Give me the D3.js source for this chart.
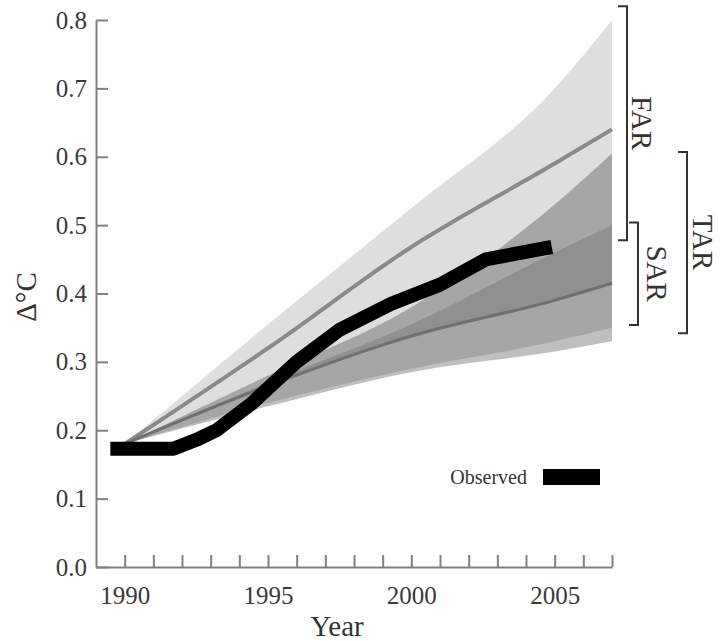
<!DOCTYPE html>
<html lang="en">
<head>
    <meta charset="UTF-8">
    <title>Projected vs observed warming</title>
    <script src="https://d3js.org/d3.v7.min.js"></script>
    <style>
        body {
            margin: 0;
            background-color: #fff;
        }
        svg text {
            font-family: "Liberation Serif", "Times New Roman", serif;
            fill: #333;
        }
        .axis path, .axis line {
            stroke: #808080;
            stroke-width: 2;
        }
        .axis text {
            font-size: 25px;
            fill: #3a3a3a;
        }
    </style>
</head>
<body>
    <div id="chart"></div>

    <script>
        // projection envelopes, read at these years
        const bandYears = [1990, 1995, 2000, 2005, 2007];
        const farUpper = [0.18, 0.355, 0.525, 0.70, 0.80];
        const farMean  = [0.18, 0.32, 0.468, 0.59, 0.64];
        const farLower = [0.18, 0.265, 0.335, 0.39, 0.415];
        const tarUpper = [0.18, 0.28, 0.38, 0.53, 0.605];
        const tarLower = [0.18, 0.235, 0.285, 0.315, 0.33];
        const sarUpper = [0.18, 0.27, 0.355, 0.46, 0.50];
        const sarMean  = [0.18, 0.265, 0.338, 0.39, 0.415];
        const sarLower = [0.18, 0.24, 0.29, 0.33, 0.35];

        // observed (smoothed) temperature
        const obsYears  = [1989.5, 1991.7, 1992.5, 1993.2, 1994.4, 1995.3, 1996.0, 1997.5, 1999.3, 2001.0, 2002.6, 2004.9];
        const obsValues = [0.173, 0.173, 0.186, 0.20, 0.238, 0.273, 0.30, 0.347, 0.385, 0.413, 0.45, 0.468];

        // bracket ranges on the right
        const bracketNames = ['FAR', 'SAR', 'TAR'];
        const bracketLow   = [0.478, 0.354, 0.342];
        const bracketHigh  = [0.82, 0.504, 0.607];

        const yTicks = [0, 0.1, 0.2, 0.3, 0.4, 0.5, 0.6, 0.7, 0.8];
        const xLabelYears = [1990, 1995, 2000, 2005];

        const width = 720, height = 641;
        const svg = d3.select('#chart').append('svg')
            .attr('width', width)
            .attr('height', height);

        const x = d3.scaleLinear().domain([1989, 2007]).range([96, 612]);
        const y = d3.scaleLinear().domain([0, 0.8]).range([567, 20]);

        const area = (lo, hi) => d3.area()
            .curve(d3.curveMonotoneX)
            .x((d, i) => x(bandYears[i]))
            .y0((d, i) => y(lo[i]))
            .y1((d, i) => y(hi[i]))(bandYears);

        const line = vals => d3.line()
            .curve(d3.curveMonotoneX)
            .x((d, i) => x(bandYears[i]))
            .y((d, i) => y(vals[i]))(bandYears);

        // bands, translucent so the overlaps darken
        svg.append('path').attr('d', area(farLower, farUpper))
            .attr('fill', '#000').attr('fill-opacity', 0.13);
        svg.append('path').attr('d', area(tarLower, tarUpper))
            .attr('fill', '#000').attr('fill-opacity', 0.25);
        svg.append('path').attr('d', area(sarLower, sarUpper))
            .attr('fill', '#000').attr('fill-opacity', 0.13);

        svg.append('path').attr('d', line(farMean))
            .attr('fill', 'none').attr('stroke', '#8a8a8a').attr('stroke-width', 4);
        svg.append('path').attr('d', line(sarMean))
            .attr('fill', 'none').attr('stroke', '#707070').attr('stroke-width', 3);

        // axes
        const xAxis = d3.axisBottom(x)
            .tickValues(d3.range(1990, 2008))
            .tickSizeInner(-12).tickSizeOuter(0).tickPadding(19)
            .tickFormat(d => xLabelYears.includes(d) ? d : '');
        svg.append('g').attr('class', 'axis')
            .attr('transform', 'translate(0,567)')
            .call(xAxis);

        const yAxis = d3.axisLeft(y)
            .tickValues(yTicks)
            .tickSizeInner(-12).tickSizeOuter(0).tickPadding(9)
            .tickFormat(d3.format('.1f'));
        svg.append('g').attr('class', 'axis')
            .attr('transform', 'translate(96,0)')
            .call(yAxis);

        // observed line
        svg.append('path')
            .datum(obsYears)
            .attr('d', d3.line()
                .x((d, i) => x(obsYears[i]))
                .y((d, i) => y(obsValues[i])))
            .attr('fill', 'none')
            .attr('stroke', '#000')
            .attr('stroke-width', 14)
            .attr('stroke-linejoin', 'round');

        // axis titles
        svg.append('text')
            .attr('x', 337).attr('y', 636)
            .attr('text-anchor', 'middle')
            .style('font-size', '29px')
            .text('Year');
        svg.append('text')
            .attr('transform', 'translate(36,297) rotate(-90)')
            .attr('text-anchor', 'middle')
            .style('font-size', '29px')
            .text('\u0394\u00b0C');

        // brackets
        const bracketX = [627, 638, 687];
        const labelX = [642, 657, 703];
        bracketNames.forEach((name, i) => {
            const y0 = y(bracketHigh[i]), y1 = y(bracketLow[i]), bx = bracketX[i];
            svg.append('path')
                .attr('d', `M${bx - 9},${y0}H${bx}V${y1}H${bx - 9}`)
                .attr('fill', 'none')
                .attr('stroke', '#333')
                .attr('stroke-width', 2);
            svg.append('text')
                .attr('transform', `translate(${labelX[i]},${(y0 + y1) / 2}) rotate(90)`)
                .attr('text-anchor', 'middle')
                .attr('dominant-baseline', 'central')
                .style('font-size', '29px')
                .text(name);
        });

        // legend
        svg.append('text')
            .attr('x', 527).attr('y', 484)
            .attr('text-anchor', 'end')
            .style('font-size', '20px')
            .text('Observed');
        svg.append('rect')
            .attr('x', 543).attr('y', 469)
            .attr('width', 57).attr('height', 16)
            .attr('fill', '#000');
    </script>
</body>
</html>
